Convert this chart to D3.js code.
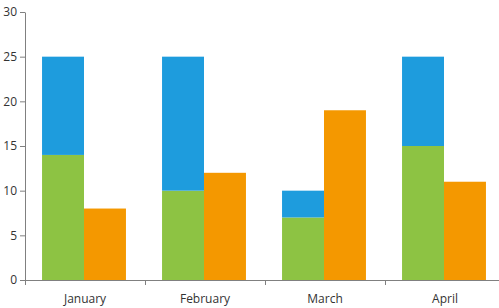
<!DOCTYPE html>
<html>
<head>
<meta charset="utf-8">
<script src="https://cdn.jsdelivr.net/npm/d3@7"></script>
<style>
  body { margin: 0; background: #fff; }
  .axis text { font-family: "Open Sans", "Noto Sans", sans-serif; font-size: 12px; fill: #333; }
  .axis path, .axis line { stroke: #808080; }
</style>
</head>
<body>
<div id="chart"></div>
<script>
const categories = ['January', 'February', 'March', 'April'];
const greenValues = [14, 10, 7, 15];
const blueValues = [11, 15, 3, 10];
const orangeValues = [8, 12, 19, 11];
const yTicks = [0, 5, 10, 15, 20, 25, 30];

const width = 499;
const height = 308;
const margin = { top: 12, right: -6, bottom: 28, left: 25 };

const data = categories.map((c, i) => ({
    category: c,
    green: greenValues[i],
    blue: blueValues[i],
    orange: orangeValues[i]
}));

const svg = d3.select('#chart').append('svg')
    .attr('width', width)
    .attr('height', height);

const chartWidth = width - margin.left - margin.right;
const chartHeight = height - margin.top - margin.bottom;

const g = svg.append('g')
    .attr('transform', `translate(${margin.left},${margin.top})`);

// Scales
const xScale = d3.scaleBand()
    .domain(categories)
    .range([0, chartWidth]);

const xInner = d3.scaleBand()
    .domain(['stack', 'orange'])
    .range([-1, xScale.bandwidth() - 1])
    .paddingOuter(0.43);

const yScale = d3.scaleLinear()
    .domain([0, 30])
    .range([chartHeight, 0]);

// Stacked series
const stacked = d3.stack().keys(['green', 'blue'])(data);
const colors = { green: '#8dc343', blue: '#1e9cdd', orange: '#f49800' };

stacked.forEach(layer => {
    g.selectAll('.bar-' + layer.key)
        .data(layer)
        .enter()
        .append('rect')
        .attr('x', d => xScale(d.data.category) + xInner('stack'))
        .attr('y', d => yScale(d[1]))
        .attr('width', xInner.bandwidth())
        .attr('height', d => yScale(d[0]) - yScale(d[1]))
        .attr('fill', colors[layer.key]);
});

g.selectAll('.bar-orange')
    .data(data)
    .enter()
    .append('rect')
    .attr('x', d => xScale(d.category) + xInner('orange'))
    .attr('y', d => yScale(d.orange))
    .attr('width', xInner.bandwidth())
    .attr('height', d => chartHeight - yScale(d.orange))
    .attr('fill', colors.orange);

// Axes
const xAxis = g.append('g')
    .attr('class', 'axis')
    .attr('transform', `translate(0,${chartHeight})`)
    .call(d3.axisBottom(xScale).tickSize(0).tickPadding(14).tickSizeOuter(0));

xAxis.selectAll('.tick-sep')
    .data(categories)
    .enter()
    .append('line')
    .attr('x1', d => xScale(d) + 0.5)
    .attr('x2', d => xScale(d) + 0.5)
    .attr('y1', 0)
    .attr('y2', 5)
    .attr('stroke', '#808080');

g.append('g')
    .attr('class', 'axis')
    .call(d3.axisLeft(yScale).tickValues(yTicks).tickSize(5).tickPadding(3).tickSizeOuter(0));
</script>
</body>
</html>
